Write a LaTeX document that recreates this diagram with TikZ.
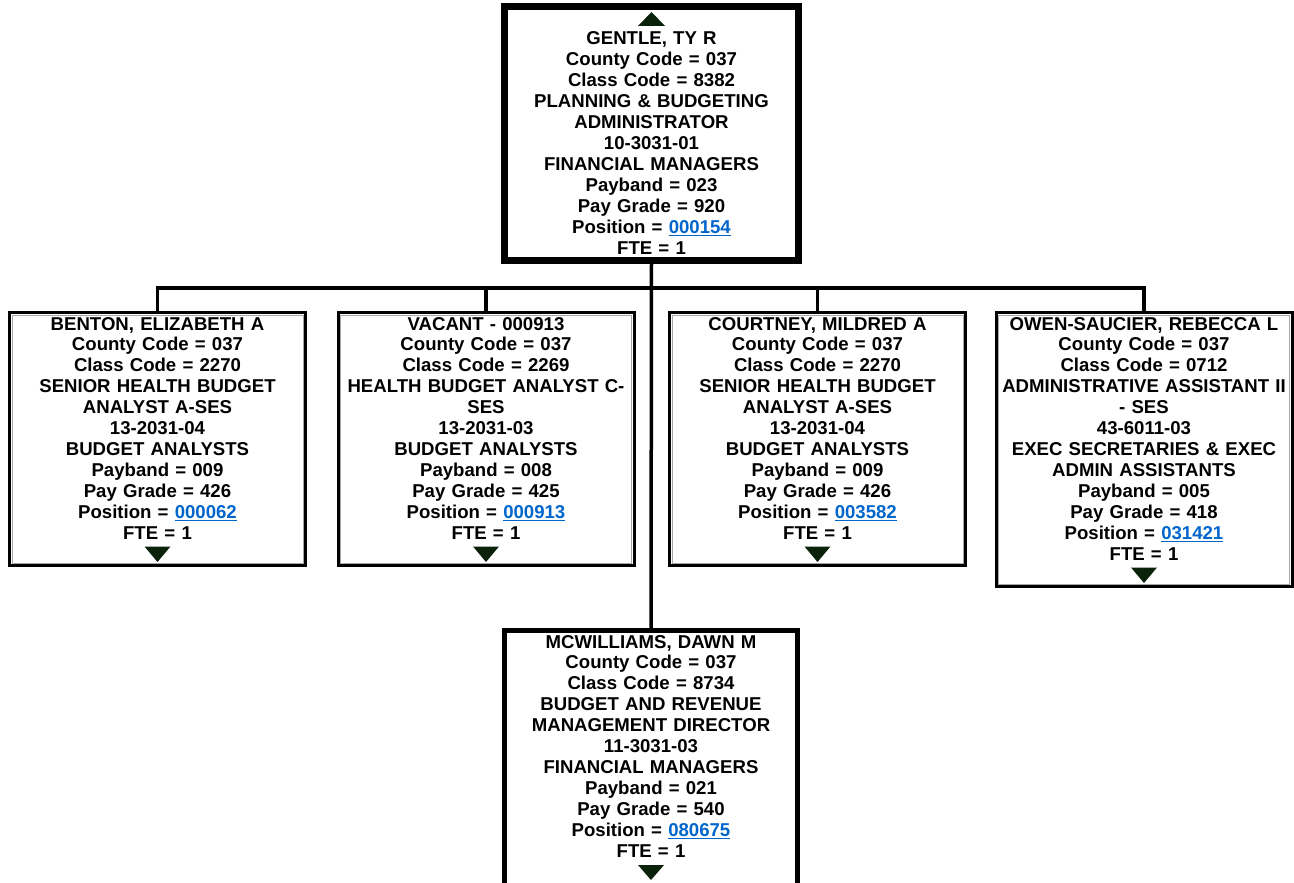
\documentclass[tikz,border=0pt]{standalone}
\usepackage{fontspec}
\setmainfont{Liberation Sans}
\usetikzlibrary{calc}
\definecolor{linkblue}{HTML}{0066CC}
\definecolor{markgreen}{HTML}{0A220A}
\newcommand{\poslink}[1]{\textcolor{linkblue}{\underline{#1}}}

\begin{document}
\begin{tikzpicture}[x=1pt,y=-1pt,
  every node/.style={inner sep=0pt, outer sep=0pt},
  % boxes: black border with a thin grey line just inside
  childbox/.style={draw=black, line width=3pt, fill=white,
    minimum width=296pt, minimum height=#1,
    path picture={\draw[gray!70, line width=1pt]
      ([shift={(2.5,2.5)}]path picture bounding box.north west) rectangle
      ([shift={(-2.5,-2.5)}]path picture bounding box.south east);}},
  headbox/.style={draw=black, line width=7pt, fill=white,
    minimum width=294pt, minimum height=254pt,
    path picture={\draw[gray!60, line width=0.9pt]
      ([shift={(1,1)}]path picture bounding box.north west) rectangle
      ([shift={(-1,-1)}]path picture bounding box.south east);}},
  subbox/.style={draw=black, line width=5pt, fill=white,
    minimum width=293pt, minimum height=400pt,
    path picture={\draw[gray!60, line width=1pt]
      ([shift={(0.5,0.5)}]path picture bounding box.north west) rectangle
      ([shift={(-0.5,-0.5)}]path picture bounding box.south east);}},
  info/.style={anchor=base, text width=330pt, align=center,
    font=\bfseries\fontsize{18.6}{20.95}\selectfont},
  wire/.style={draw=black, line width=3.5pt},
  knob/.style={fill=markgreen}
]
\clip (0,0) rectangle (1294,883);
\fill[white] (0,0) rectangle (1294,883);

% box outlines, placed first so the wires can refer to them
\node[headbox] (top) at (651.5,133.5) {};
\node[childbox=253pt] (b1) at (157.5,439) {};
\node[childbox=253pt] (b2) at (486,439) {};
\node[childbox=253pt] (b3) at (817.5,439) {};
\node[childbox=274pt] (b4) at (1144,449.5) {};
\node[subbox] (bot) at (651,830.5) {};

% reporting lines
\draw[wire] (top.south) -- (bot.north);
\draw[wire] (b1.north) -- ++(0,-24.5) -| (b4.north);
\draw[wire] (b2.north) -- ++(0,-24.5);
\draw[wire] (b3.north) -- ++(0,-24.5);

% boxes redrawn on top of the wires
\node[headbox] at (top) {};
\node[childbox=253pt] at (b1) {};
\node[childbox=253pt] at (b2) {};
\node[childbox=253pt] at (b3) {};
\node[childbox=274pt] at (b4) {};
\node[subbox] at (bot) {};

% texts
\node[info] (ttop) at ($(top.north)+(0,38.5)$) {GENTLE, TY R\\County Code = 037\\Class Code = 8382\\PLANNING \& BUDGETING\\ADMINISTRATOR\\10-3031-01\\FINANCIAL MANAGERS\\Payband = 023\\Pay Grade = 920\\Position = \poslink{000154}\\FTE = 1};
\node[info] (t1) at ($(b1.north)+(0,17.5)$) {BENTON, ELIZABETH A\\County Code = 037\\Class Code = 2270\\SENIOR HEALTH BUDGET\\ANALYST A-SES\\13-2031-04\\BUDGET ANALYSTS\\Payband = 009\\Pay Grade = 426\\Position = \poslink{000062}\\FTE = 1};
\node[info] (t2) at ($(b2.north)+(0,17.5)$) {VACANT - 000913\\County Code = 037\\Class Code = 2269\\HEALTH BUDGET ANALYST C-\\SES\\13-2031-03\\BUDGET ANALYSTS\\Payband = 008\\Pay Grade = 425\\Position = \poslink{000913}\\FTE = 1};
\node[info] (t3) at ($(b3.north)+(0,17.5)$) {COURTNEY, MILDRED A\\County Code = 037\\Class Code = 2270\\SENIOR HEALTH BUDGET\\ANALYST A-SES\\13-2031-04\\BUDGET ANALYSTS\\Payband = 009\\Pay Grade = 426\\Position = \poslink{003582}\\FTE = 1};
\node[info] (t4) at ($(b4.north)+(0,17.5)$) {OWEN-SAUCIER, REBECCA L\\County Code = 037\\Class Code = 0712\\ADMINISTRATIVE ASSISTANT II\\- SES\\43-6011-03\\EXEC SECRETARIES \& EXEC\\ADMIN ASSISTANTS\\Payband = 005\\Pay Grade = 418\\Position = \poslink{031421}\\FTE = 1};
\node[info] (tbot) at ($(bot.north)+(0,17.5)$) {MCWILLIAMS, DAWN M\\County Code = 037\\Class Code = 8734\\BUDGET AND REVENUE\\MANAGEMENT DIRECTOR\\11-3031-03\\FINANCIAL MANAGERS\\Payband = 021\\Pay Grade = 540\\Position = \poslink{080675}\\FTE = 1};

% expand / collapse markers
\fill[knob] ($(top.north)+(-13.5,19.5)$) -- ++(27,0) -- ++(-13.5,-14) -- cycle;
\foreach \b in {b1,b2,b3,b4}
  \fill[knob] ($(\b.south)+(-13,-19)$) -- ++(26,0) -- ++(-13,15.5) -- cycle;
\fill[knob] ($(bot.north)+(-13,234.5)$) -- ++(26,0) -- ++(-13,15) -- cycle;
\end{tikzpicture}
\end{document}
